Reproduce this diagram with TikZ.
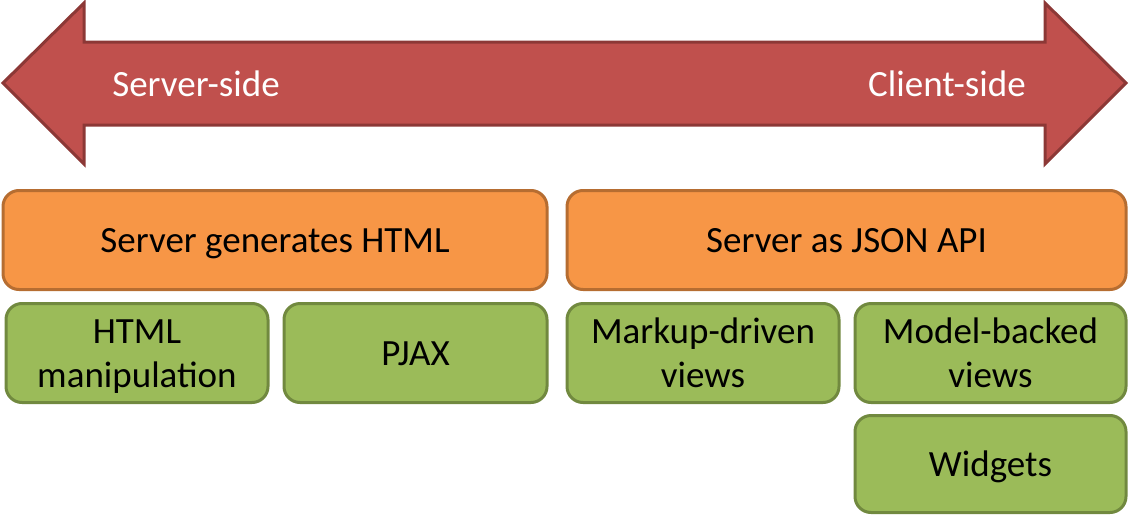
\documentclass[tikz,border=0pt]{standalone}
\usepackage{fontspec}
\setmainfont{Carlito}
\definecolor{arrowfill}{HTML}{C0504D}
\definecolor{arrowline}{HTML}{8C3836}
\definecolor{orfill}{HTML}{F79646}
\definecolor{orline}{HTML}{B66D31}
\definecolor{grfill}{HTML}{9BBB59}
\definecolor{grline}{HTML}{71893F}
\begin{document}
\begin{tikzpicture}[x=1pt,y=-1pt,
  txt/.style={font=\fontsize{37}{44}\selectfont, inner sep=0pt, align=center, text height=24pt, text depth=0pt},
  twoline/.style={text height=68pt, text depth=0pt},
  orbox/.style={txt, draw=orline, fill=orfill, line width=3pt, rounded corners=16pt},
  grbox/.style={txt, draw=grline, fill=grfill, line width=3pt, rounded corners=16pt},
  side/.style={txt, text=white}]
\useasboundingbox (0,0) rectangle (1130,517);
\draw[arrowline, fill=arrowfill, line width=3pt, line join=miter]
  (3,83) -- (84,3) -- (84,42) -- (1045,42) -- (1045,3) -- (1126,83)
  -- (1045,164) -- (1045,125) -- (84,125) -- (84,164) -- cycle;
\node[side] (ss) at (196,84) {Server-side};
\node[side] (cs) at (947,84) {Client-side};
\node[orbox, minimum width=544pt, minimum height=99pt] (sgh) at (275,240) {Server generates HTML};
\node[orbox, minimum width=559pt, minimum height=99pt] (json) at (846.5,240) {Server as JSON API};
\node[grbox, twoline, minimum width=262pt, minimum height=99pt] (hm) at (137,353) {HTML\\manipulation};
\node[grbox, minimum width=263pt, minimum height=99pt] (pjax) at (415.5,353) {PJAX};
\node[grbox, twoline, minimum width=272pt, minimum height=99pt] (mdv) at (703,353) {Markup-driven\\views};
\node[grbox, twoline, minimum width=271pt, minimum height=99pt] (mbv) at (990.5,353) {Model-backed\\views};
\node[grbox, minimum width=271pt, minimum height=97pt] (wid) at (990.5,464) {Widgets};
\end{tikzpicture}
\end{document}
